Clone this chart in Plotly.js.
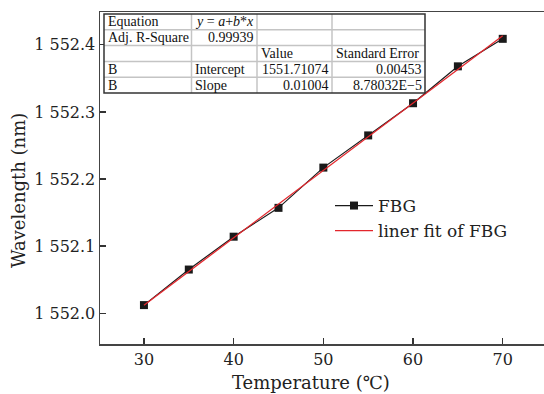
<!DOCTYPE html>
<html>
<head>
<meta charset="utf-8">
<script src="https://cdn.plot.ly/plotly-3.0.1.min.js"></script>
<style>html,body{margin:0;padding:0;background:#fff;}#chart{width:544px;height:394px;}</style>
</head>
<body>
<div id="chart"></div>
<script>
// ---- data ----
var temperature = [30, 35, 40, 45, 50, 55, 60, 65, 70];
var wavelength = [1552.012, 1552.065, 1552.114, 1552.157, 1552.217, 1552.265, 1552.313, 1552.368, 1552.409];
var fitX = [30, 70];
var fitY = [1552.0119, 1552.4136];
var seriesNames = ["FBG", "liner fit of FBG"];
var yTicks = [1552.0, 1552.1, 1552.2, 1552.3, 1552.4];
var xTicks = [30, 40, 50, 60, 70];
var xTitle = "Temperature (\u2103)";
var yTitle = "Wavelength (nm)";
var tableRow1 = ["Equation", "<i>y</i> = <i>a</i>+<i>b</i>*<i>x</i>", "", ""];
var tableRow2 = ["Adj. R-Square", "0.99939", "", ""];
var tableRow3 = ["", "", "Value", "Standard Error"];
var tableRow4 = ["B", "Intercept", "1551.71074", "0.00453"];
var tableRow5 = ["B", "Slope", "0.01004", "8.78032E\u22125"];
var tableRows = [tableRow1, tableRow2, tableRow3, tableRow4, tableRow5];

// ---- layout helpers ----
var W = 544, H = 394, ML = 100, MR = 0, MT = 12, MB = 50;
var PW = W - ML - MR, PH = H - MT - MB;
function px(x) { return (x - ML) / PW; }
function py(y) { return (H - MB - y) / PH; }

var font = "DejaVu Serif, Liberation Serif, Noto Sans CJK SC, serif";
var tfont = "Liberation Serif, DejaVu Serif, serif";

var colEdges = [104, 191.5, 257, 332, 425];
var rowTop = 14, rowBot = 93;
var rowH = (rowBot - rowTop) / tableRows.length;

var shapes = [];
var annotations = [];
shapes.push({type: "rect", xref: "paper", yref: "paper", x0: px(colEdges[0]), x1: px(colEdges[4]), y0: py(rowBot), y1: py(rowTop), fillcolor: "#fff", line: {width: 0}, layer: "above"});
for (var r = 1; r < tableRows.length; r++) {
  var yy = rowTop + r * rowH;
  shapes.push({type: "line", xref: "paper", yref: "paper", x0: px(colEdges[0]), x1: px(colEdges[4]), y0: py(yy), y1: py(yy), line: {color: "#c4c4c4", width: 1.5}, layer: "above"});
}
for (var c = 1; c < colEdges.length - 1; c++) {
  shapes.push({type: "line", xref: "paper", yref: "paper", x0: px(colEdges[c]), x1: px(colEdges[c]), y0: py(rowBot), y1: py(rowTop), line: {color: "#c4c4c4", width: 1.5}, layer: "above"});
}
shapes.push({type: "rect", xref: "paper", yref: "paper", x0: px(colEdges[0]), x1: px(colEdges[4]), y0: py(rowBot), y1: py(rowTop), line: {color: "#333", width: 1.5}, layer: "above"});

var numRe = /^[0-9.E\u2212\-]+$/;
tableRows.forEach(function (row, ri) {
  var yc = rowTop + (ri + 0.5) * rowH;
  row.forEach(function (txt, ci) {
    if (!txt) return;
    var right = numRe.test(txt);
    annotations.push({
      xref: "paper", yref: "paper",
      x: right ? px(colEdges[ci + 1] - 1.5) : px(colEdges[ci] + 1.5),
      xanchor: right ? "right" : "left",
      y: py(yc), yanchor: "middle",
      text: txt, showarrow: false,
      font: {family: tfont, size: 14, color: "#111"}
    });
  });
});

// axis titles
annotations.push({xref: "paper", yref: "paper", x: px(311), y: py(383), xanchor: "center", yanchor: "middle",
  text: xTitle, showarrow: false, font: {family: font, size: 18, color: "#222"}});
annotations.push({xref: "paper", yref: "paper", x: px(18), y: py(191), xanchor: "center", yanchor: "middle",
  textangle: -90, text: yTitle, showarrow: false, font: {family: font, size: 18, color: "#222"}});

var traces = [
  {x: temperature, y: wavelength, name: seriesNames[0], type: "scatter", mode: "lines+markers",
   line: {color: "#1a1a1a", width: 1.2}, marker: {symbol: "square", size: 8, color: "#1a1a1a"}},
  {x: fitX, y: fitY, name: seriesNames[1], type: "scatter", mode: "lines",
   line: {color: "#e3262c", width: 1.3}}
];

var layout = {
  width: W, height: H,
  margin: {l: ML, r: MR, t: MT, b: MB, pad: 0},
  paper_bgcolor: "#fff", plot_bgcolor: "#fff",
  separators: ". ",
  font: {family: font, size: 16, color: "#222"},
  showlegend: true,
  legend: {x: px(330), y: py(188), xanchor: "left", yanchor: "top", bgcolor: "rgba(0,0,0,0)", itemwidth: 38,
           font: {family: font, size: 17, color: "#222"}, tracegroupgap: 0},
  xaxis: {
    range: [25.1, 74.6], tickvals: xTicks, ticks: "inside", ticklen: 6, tickwidth: 1.2, tickcolor: "#333",
    showline: true, linecolor: "#444", linewidth: 1.5, mirror: true, showgrid: false, zeroline: false,
    tickfont: {family: font, size: 16, color: "#222"}
  },
  yaxis: {
    range: [1551.954, 1552.449], tickvals: yTicks, tickformat: ",.1f", ticks: "inside", ticklen: 6, tickwidth: 1.2, tickcolor: "#333",
    showline: true, linecolor: "#444", linewidth: 1.5, mirror: true, showgrid: false, zeroline: false,
    tickfont: {family: font, size: 16, color: "#222"}
  },
  shapes: shapes,
  annotations: annotations
};

Plotly.newPlot("chart", traces, layout, {displayModeBar: false, staticPlot: true});
</script>
</body>
</html>
